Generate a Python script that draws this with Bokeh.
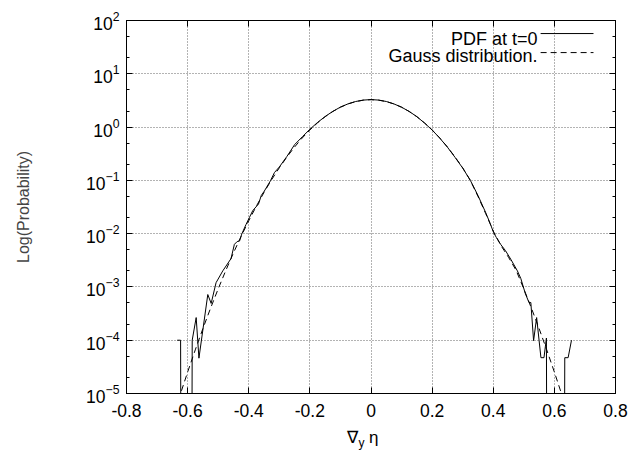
from bokeh.plotting import figure
from bokeh.models import (Range1d, FixedTicker, LogAxis, LinearAxis, Label,
                          Arrow, LogTickFormatter, Div)
from bokeh.layouts import column
from bokeh.embed import file_html
from bokeh.resources import INLINE

# ---------------- data ----------------
EMPTY = 1e-30  # empty histogram bin (below the visible range)

pdf_x = [-0.634, -0.623, -0.611, -0.598, -0.585, -0.572, -0.563, -0.534, -0.523,
         -0.507, -0.485, -0.458, -0.447, -0.438, -0.430, -0.423, -0.409, -0.398,
         -0.387, -0.368, -0.359, -0.349, -0.329, -0.316, -0.300, -0.275, -0.250,
         -0.225, -0.200, -0.175, -0.150, -0.125, -0.100, -0.075, -0.050, -0.025,
         0.000, 0.025, 0.050, 0.075, 0.100, 0.125, 0.150, 0.175, 0.200, 0.225,
         0.250, 0.275, 0.300, 0.325, 0.350, 0.375, 0.390, 0.401, 0.410, 0.425,
         0.440, 0.4575, 0.479, 0.490, 0.505, 0.517, 0.523, 0.532, 0.542, 0.556,
         0.566, 0.574, 0.585, 0.610, 0.622, 0.634, 0.645, 0.656]
pdf_y = [1.0e-4, 1.0e-4, EMPTY, EMPTY, 1.0e-4, 2.66e-4, 4.6e-5, 7.2e-4, 4.9e-4,
         1.2e-3, 2.0e-3, 3.4e-3, 6.3e-3, 7.1e-3, 7.3e-3, 9.8e-3, 1.48e-2, 2.0e-2,
         2.7e-2, 3.6e-2, 5.2e-2, 6.3e-2, 9.8e-2, 0.140, 0.178, 0.282, 0.468,
         0.655, 0.910, 1.22, 1.58, 1.97, 2.37, 2.73, 3.02, 3.21,
         3.28, 3.21, 3.02, 2.72, 2.36, 1.96, 1.57, 1.19, 0.88, 0.62,
         0.42, 0.27, 0.170, 0.100, 0.052, 0.025, 0.0155, 0.0105, 0.0085, 6.2e-3,
         4.8e-3, 3.3e-3, 2.0e-3, 1.45e-3, 7.5e-4, 5.1e-4, 5.1e-4, 9.8e-5, 2.66e-4, 4.7e-5,
         4.7e-5, 1.1e-4, EMPTY, EMPTY, EMPTY, 4.7e-5, 4.7e-5, 1.0e-4]

gauss_x = [-0.650, -0.625, -0.600, -0.575, -0.550, -0.525, -0.500, -0.475, -0.450,
           -0.425, -0.400, -0.375, -0.350, -0.325, -0.300, -0.275, -0.250, -0.225,
           -0.200, -0.175, -0.150, -0.125, -0.100, -0.075, -0.050, -0.025, 0.000,
           0.025, 0.050, 0.075, 0.100, 0.125, 0.150, 0.175, 0.200, 0.225, 0.250,
           0.275, 0.300, 0.325, 0.350, 0.375, 0.400, 0.425, 0.450, 0.475, 0.500,
           0.525, 0.550, 0.575, 0.600, 0.625, 0.650]
gauss_y = [3.27e-6, 9.27e-6, 2.52e-5, 6.59e-5, 1.654e-4, 3.98e-4, 9.2e-4, 2.04e-3, 4.35e-3,
           8.9e-3, 1.746e-2, 3.29e-2, 5.95e-2, 0.1033, 0.172, 0.275, 0.423, 0.624,
           0.883, 1.20, 1.565, 1.96, 2.36, 2.72, 3.01, 3.20, 3.27,
           3.20, 3.01, 2.72, 2.36, 1.96, 1.565, 1.20, 0.883, 0.624, 0.423,
           0.275, 0.172, 0.100, 0.050, 0.024, 0.0112, 6.0e-3, 3.6e-3, 2.04e-3, 9.2e-4,
           3.98e-4, 1.654e-4, 6.59e-5, 2.52e-5, 9.27e-6, 3.27e-6]

x_ticks = [-0.8, -0.6, -0.4, -0.2, 0, 0.2, 0.4, 0.6, 0.8]
x_tick_labels = ["-0.8", "-0.6", "-0.4", "-0.2", "0", "0.2", "0.4", "0.6", "0.8"]
y_ticks = [1e-5, 1e-4, 1e-3, 1e-2, 1e-1, 1e0, 1e1, 1e2]
y_minor_ticks = [2e-5, 5e-5, 2e-4, 5e-4, 2e-3, 5e-3, 2e-2, 5e-2,
                 0.2, 0.5, 2, 5, 20, 50]
legend_labels = ["PDF at t=0", "Gauss distribution."]
y_label = "Log(Probability)"

FONT = "Liberation Sans"
TICK_SIZE = "17.5px"

p = figure(width=636, height=428, x_range=Range1d(-0.8, 0.8),
           y_range=Range1d(1e-5, 1e2), y_axis_type="log",
           output_backend="svg", toolbar_location=None,
           min_border_left=126, min_border_right=21,
           min_border_top=20, min_border_bottom=35)
p.background_fill_color = "white"
p.border_fill_color = "white"
p.outline_line_color = "black"
p.outline_line_width = 1
p.outline_line_alpha = 1

xt = FixedTicker(ticks=x_ticks, minor_ticks=[])
yt = FixedTicker(ticks=y_ticks, minor_ticks=y_minor_ticks)

def style_axis(ax, show_labels=True):
    ax.axis_line_color = "black"
    ax.major_tick_line_color = "black"
    ax.minor_tick_line_color = "black"
    ax.major_tick_in = 6
    ax.major_tick_out = 0
    ax.minor_tick_in = 3
    ax.minor_tick_out = 0
    if show_labels:
        ax.major_label_text_font = FONT
        ax.major_label_text_font_size = TICK_SIZE
        ax.major_label_text_color = "black"
    else:
        ax.major_label_text_font_size = "0px"
        ax.major_label_text_color = None
        ax.major_label_standoff = 0

# bottom axis
xa = p.xaxis[0]
xa.ticker = xt
xa.major_label_overrides = dict(zip(x_ticks, x_tick_labels))
style_axis(xa)
xa.major_label_standoff = 10

# left axis
ya = p.yaxis[0]
ya.ticker = yt
ya.formatter = LogTickFormatter()
style_axis(ya)
ya.major_label_standoff = 7
ya.axis_label = y_label
ya.axis_label_text_font = FONT
ya.axis_label_text_font_size = "16px"
ya.axis_label_text_font_style = "normal"
ya.axis_label_standoff = 51

# mirrored axes
top = LinearAxis(ticker=FixedTicker(ticks=x_ticks, minor_ticks=[]))
style_axis(top, show_labels=False)
p.add_layout(top, "above")
right = LogAxis(ticker=FixedTicker(ticks=y_ticks, minor_ticks=y_minor_ticks))
style_axis(right, show_labels=False)
p.add_layout(right, "right")

# grid
p.xgrid.ticker = xt
p.ygrid.ticker = yt
for g in (p.xgrid, p.ygrid):
    g.grid_line_color = "#666666"
    g.grid_line_dash = "1 2"
    g.grid_line_width = 1
    g.minor_grid_line_color = None

# curves
p.line(pdf_x, pdf_y, line_color="black", line_width=1)
p.line(gauss_x, gauss_y, line_color="black", line_width=1, line_dash="6 4")

# legend (text right-aligned, samples to the right)
LEG_TEXT_X = 0.545
LEG_LINE_X0, LEG_LINE_X1 = 0.555, 0.728
leg_text_y = [45.8, 22.0]
leg_line_y = [56.9, 25.0]
leg_dash = ["solid", "6 4"]
for lab, ty, ly, dash in zip(legend_labels, leg_text_y, leg_line_y, leg_dash):
    p.add_layout(Label(x=LEG_TEXT_X, y=ty, text=lab, text_align="right",
                       text_baseline="alphabetic", text_font=FONT,
                       text_font_size="18px", text_color="black"))
    p.add_layout(Arrow(x_start=LEG_LINE_X0, y_start=ly, x_end=LEG_LINE_X1, y_end=ly,
                       end=None, line_color="black", line_width=1, line_dash=dash))

# x-axis label: nabla with subscript y, then eta (as real text below the plot)
xlabel = Div(
    text=('<div style="padding-left:347px;margin:0;line-height:20px;'
          'font-family:\'Liberation Sans\',\'DejaVu Sans\',sans-serif;'
          'font-size:17px;color:black;white-space:nowrap;">'
          '\u2207<span style="font-size:12px;position:relative;top:4px;">y</span>'
          ' \u03b7</div>'),
    width=636, height=23, margin=(0, 0, 0, 0))

layout = column(p, xlabel, spacing=0)
open("out.html", "w").write(file_html(layout, INLINE))
